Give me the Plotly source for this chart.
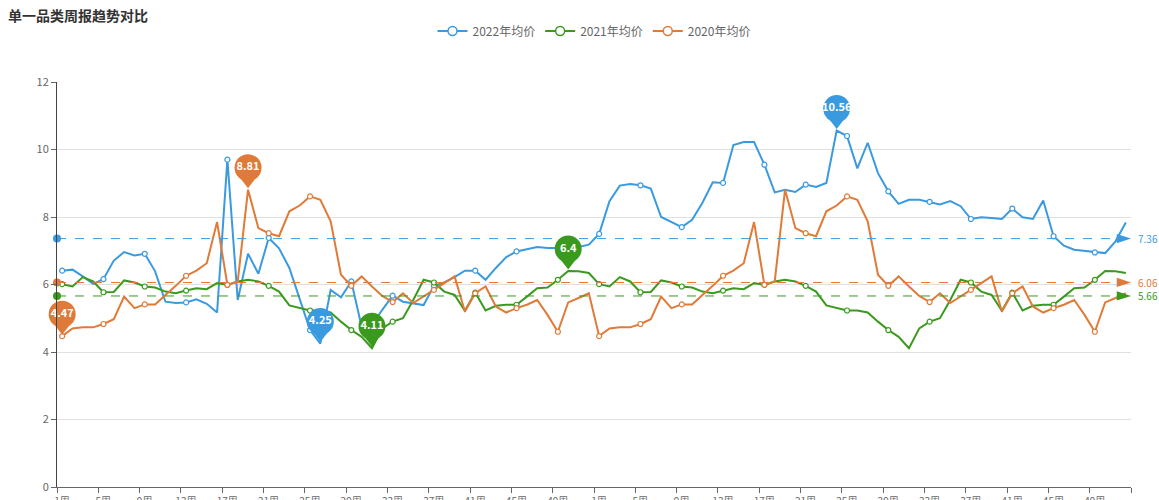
import numpy as np
import plotly.graph_objects as go

weeks = [f"{(i % 52) + 1}周" for i in range(104)]

series_names = ["2022年均价", "2021年均价", "2020年均价"]
series_colors = ["#3a9ae0", "#3a9a1e", "#e07a38"]

values_2022 = [
    6.41, 6.44, 6.24, 6.02, 6.16, 6.71, 6.96, 6.86, 6.91, 6.39,
    5.49, 5.45, 5.47, 5.56, 5.43, 5.17, 9.70, 5.54, 6.91, 6.32,
    7.38, 7.07, 6.49, 5.54, 4.65, 4.25, 5.84, 5.62, 6.09, 4.75,
    4.80, 5.25, 5.67, 5.49, 5.44, 5.39, 5.96, 6.06, 6.22, 6.41,
    6.41, 6.14, 6.49, 6.81, 6.98, 7.05, 7.11, 7.08, 7.08, 7.08,
    7.11, 7.18, 7.50, 8.47, 8.93, 8.98, 8.94, 8.84, 8.00, 7.85,
    7.70, 7.92, 8.42, 9.03, 9.01, 10.13, 10.22, 10.22, 9.55, 8.73,
    8.81, 8.74, 8.96, 8.89, 9.01, 10.56, 10.40, 9.44, 10.20, 9.30,
    8.76, 8.39, 8.51, 8.51, 8.45, 8.37, 8.47, 8.32, 7.94, 7.99,
    7.97, 7.94, 8.25, 7.99, 7.94, 8.49, 7.43, 7.15, 7.03, 7.00,
    6.95, 6.93, 7.28, 7.84,
]

values_2021 = [
    6.01, 5.94, 6.22, 6.09, 5.77, 5.78, 6.12, 6.06, 5.94, 5.91,
    5.79, 5.74, 5.82, 5.89, 5.86, 6.04, 5.99, 6.09, 6.14, 6.09,
    5.96, 5.79, 5.38, 5.30, 5.23, 5.23, 5.17, 4.90, 4.65, 4.45,
    4.11, 4.70, 4.90, 5.00, 5.54, 6.14, 6.06, 5.79, 5.69, 5.22,
    5.76, 5.23, 5.37, 5.40, 5.40, 5.64, 5.89, 5.91, 6.14, 6.40,
    6.39, 6.34,
    6.01, 5.94, 6.22, 6.09, 5.77, 5.78, 6.12, 6.06, 5.94, 5.91,
    5.79, 5.74, 5.82, 5.89, 5.86, 6.04, 5.99, 6.09, 6.14, 6.09,
    5.96, 5.79, 5.38, 5.30, 5.23, 5.23, 5.17, 4.90, 4.65, 4.45,
    4.11, 4.70, 4.90, 5.00, 5.54, 6.14, 6.06, 5.79, 5.69, 5.22,
    5.76, 5.23, 5.37, 5.40, 5.40, 5.64, 5.89, 5.91, 6.14, 6.40,
    6.39, 6.34,
]

values_2020 = [
    4.47, 4.70, 4.73, 4.73, 4.83, 4.97, 5.64, 5.30, 5.41, 5.41,
    5.69, 5.96, 6.26, 6.41, 6.63, 7.85, 5.99, 6.09, 8.81, 7.67,
    7.52, 7.43, 8.17, 8.34, 8.61, 8.51, 7.87, 6.29, 5.96, 6.24,
    5.94, 5.66, 5.48, 5.74, 5.45, 5.64, 5.84, 6.04, 6.24, 5.20,
    5.74, 5.94, 5.35, 5.17, 5.30, 5.40, 5.54, 5.10, 4.60, 5.47,
    5.60, 5.74,
    4.47, 4.70, 4.73, 4.73, 4.83, 4.97, 5.64, 5.30, 5.41, 5.41,
    5.69, 5.96, 6.26, 6.41, 6.63, 7.85, 5.99, 6.09, 8.81, 7.67,
    7.52, 7.43, 8.17, 8.34, 8.61, 8.51, 7.87, 6.29, 5.96, 6.24,
    5.94, 5.66, 5.48, 5.74, 5.45, 5.64, 5.84, 6.04, 6.24, 5.20,
    5.74, 5.94, 5.35, 5.17, 5.30, 5.40, 5.54, 5.10, 4.60, 5.47,
    5.60, 5.74,
]

average_values = [7.36, 5.66, 6.06]

y_ticks = [0, 2, 4, 6, 8, 10, 12]

all_values = [values_2022, values_2021, values_2020]

FONT = "Noto Sans CJK SC, Noto Sans, sans-serif"
x = list(range(len(weeks)))

# pixel geometry for pin offsets
PLOT_H = 405.0
Y_MAX = 12.0
PX = Y_MAX / PLOT_H  # data units per pixel

fig = go.Figure()

# lines
for name, col, vals in zip(series_names, series_colors, all_values):
    fig.add_trace(go.Scatter(
        x=x, y=vals, mode="lines", name=name, showlegend=False,
        line=dict(color=col, width=2), hoverinfo="skip", cliponaxis=False,
    ))
    sel = [i for i in x if i % 4 == 0]
    fig.add_trace(go.Scatter(
        x=sel, y=[vals[i] for i in sel], mode="markers", showlegend=False,
        marker=dict(size=5, color="white", line=dict(color=col, width=1.2)),
        hoverinfo="skip", cliponaxis=False,
    ))

# legend dummies
for name, col in zip(series_names, series_colors):
    fig.add_trace(go.Scatter(
        x=[None], y=[None], mode="lines+markers", name=name,
        line=dict(color=col, width=2),
        marker=dict(size=9, color="white", line=dict(color=col, width=1.5)),
    ))

# average mark lines
x0, x1 = -0.5, len(weeks) - 0.5
for col, avg in zip(series_colors, average_values):
    fig.add_trace(go.Scatter(
        x=[x0, x1], y=[avg, avg], mode="lines", showlegend=False,
        line=dict(color=col, width=1, dash="dash"), hoverinfo="skip",
        cliponaxis=False,
    ))
    fig.add_trace(go.Scatter(
        x=[x0], y=[avg], mode="markers", showlegend=False,
        marker=dict(size=8, color=col), hoverinfo="skip", cliponaxis=False,
    ))
    fig.add_trace(go.Scatter(
        x=[x1], y=[avg], mode="markers", showlegend=False,
        marker=dict(size=15, color=col, symbol="arrow", angle=90),
        hoverinfo="skip", cliponaxis=False,
    ))
    fig.add_annotation(
        x=x1, y=avg, xref="x", yref="y", text=f"{avg:.2f}", showarrow=False,
        xanchor="left", xshift=5, font=dict(family=FONT, size=10, color=col),
    )

# max / min pins
for col, vals in zip(series_colors, all_values):
    arr = np.array(vals)
    for idx in (int(np.argmax(arr)), int(np.argmin(arr))):
        v = vals[idx]
        fig.add_trace(go.Scatter(
            x=[idx], y=[v + 9 * PX], mode="markers", showlegend=False,
            marker=dict(size=15, color=col, symbol="triangle-down", line=dict(width=0)),
            hoverinfo="skip", cliponaxis=False,
        ))
        fig.add_trace(go.Scatter(
            x=[idx], y=[v + 22 * PX], mode="markers+text", showlegend=False,
            marker=dict(size=27, color=col, line=dict(width=0)),
            text=[f"<b>{v:g}</b>"], textposition="middle center",
            textfont=dict(family=FONT, size=11, color="white"),
            hoverinfo="skip", cliponaxis=False,
        ))

tickvals = [i - 0.5 for i in range(0, len(weeks), 4)] + [len(weeks) - 0.5]
ticktext = [weeks[i] for i in range(0, len(weeks), 4)] + [""]

fig.update_layout(
    width=1159, height=500,
    margin=dict(l=57, r=28, t=82, b=13),
    paper_bgcolor="white", plot_bgcolor="white",
    title=dict(text="<b>单一品类周报趋势对比</b>", x=0.007, xref="container",
               xanchor="left", y=0.968, yref="container", yanchor="middle",
               font=dict(family=FONT, size=14, color="#333")),
    legend=dict(orientation="h", x=0.5, xanchor="center", y=0.938,
                yref="container", yanchor="middle",
                font=dict(family=FONT, size=12, color="#666"),
                itemwidth=30, bgcolor="rgba(0,0,0,0)"),
    showlegend=True,
    xaxis=dict(range=[x0, x1], tickmode="array", tickvals=tickvals,
               ticktext=ticktext, ticks="outside", ticklen=5,
               tickcolor="#666", showline=True, linecolor="#666",
               linewidth=1, showgrid=False, zeroline=False,
               ticklabelshift=5, automargin=False,
               tickfont=dict(family=FONT, size=10, color="#666")),
    yaxis=dict(range=[0, 12], tickmode="array", tickvals=y_ticks,
               ticks="outside", ticklen=5, tickcolor="#666",
               showline=True, linecolor="#444", linewidth=1,
               showgrid=True, gridcolor="#e0e0e0", gridwidth=1,
               zeroline=False, automargin=False,
               tickfont=dict(family=FONT, size=11, color="#666")),
)

fig.write_html(
    "out.html",
    config={"displayModeBar": False},
    post_script="document.body.style.margin='0';document.body.style.overflow='hidden';",
)
